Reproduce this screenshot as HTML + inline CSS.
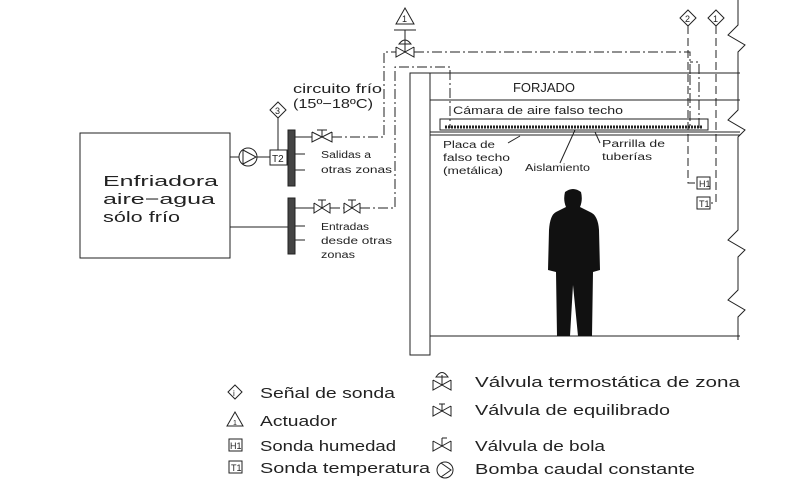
<!DOCTYPE html>
<html><head><meta charset="utf-8"><style>
html,body{margin:0;padding:0;background:#fff;}
svg{display:block;}
text{font-family:"Liberation Sans",sans-serif;fill:#222;}
</style></head><body>
<svg width="809" height="484" viewBox="0 0 809 484" xmlns="http://www.w3.org/2000/svg" stroke="#222" fill="none" stroke-width="1">
<rect x="80" y="133" width="150" height="125"/>
<text x="103" y="186" font-size="15" stroke="none" textLength="115" lengthAdjust="spacingAndGlyphs">Enfriadora</text>
<text x="103" y="204" font-size="15" stroke="none" textLength="112" lengthAdjust="spacingAndGlyphs">aire−agua</text>
<text x="103" y="222" font-size="15" stroke="none" textLength="77" lengthAdjust="spacingAndGlyphs">sólo frío</text>
<line x1="230" y1="157" x2="239" y2="157"/>
<circle cx="248" cy="157" r="9"/>
<polyline points="243,150 256,157 243,164 243,150"/>
<line x1="257" y1="157" x2="270" y2="157"/>
<rect x="270" y="150" width="17" height="15"/>
<text x="272" y="162" font-size="10" stroke="none">T2</text>
<line x1="278" y1="150" x2="278" y2="118"/>
<polygon points="278,102 286,110 278,118 270,110"/>
<text x="275" y="114" font-size="9" stroke="none">3</text>
<rect x="288" y="130" width="7" height="56" fill="#444"/>
<line x1="230" y1="227" x2="288" y2="227"/>
<rect x="288" y="198" width="7" height="56" fill="#444"/>
<line x1="295" y1="137" x2="305" y2="137"/><line x1="295" y1="154" x2="305" y2="154"/><line x1="295" y1="170" x2="305" y2="170"/>
<line x1="295" y1="208" x2="305" y2="208"/><line x1="295" y1="226" x2="305" y2="226"/><line x1="295" y1="240" x2="305" y2="240"/>
<text x="321" y="158" font-size="10" stroke="none" textLength="50" lengthAdjust="spacingAndGlyphs">Salidas a</text>
<text x="321" y="173" font-size="10" stroke="none" textLength="71" lengthAdjust="spacingAndGlyphs">otras zonas</text>
<text x="321" y="230" font-size="10" stroke="none" textLength="48" lengthAdjust="spacingAndGlyphs">Entradas</text>
<text x="321" y="244" font-size="10" stroke="none" textLength="71" lengthAdjust="spacingAndGlyphs">desde otras</text>
<text x="321" y="258" font-size="10" stroke="none" textLength="34" lengthAdjust="spacingAndGlyphs">zonas</text>
<text x="293" y="93" font-size="13" stroke="none" textLength="89" lengthAdjust="spacingAndGlyphs">circuito frío</text>
<text x="293" y="108" font-size="13" stroke="none" textLength="80" lengthAdjust="spacingAndGlyphs">(15º−18ºC)</text>
<polyline points="312,132 312,142 322,137 312,132"/><polyline points="332,132 332,142 322,137 332,132"/>
<line x1="322" y1="137" x2="322" y2="130"/><line x1="317" y1="130" x2="327" y2="130"/>
<path d="M305 137 H312 M332 137 H384 V52 H396" stroke-dasharray="10,3,2,3"/>
<polyline points="396,47 396,57 405,52 396,47"/><polyline points="414,47 414,57 405,52 414,47"/>
<line x1="405" y1="52" x2="405" y2="38"/><path d="M399 44 Q405 36 411 44 Z"/>
<line x1="405" y1="38" x2="405" y2="30"/>
<polygon points="405,8 414,24 396,24"/><line x1="394" y1="30" x2="416" y2="30"/>
<text x="402" y="22" font-size="9" stroke="none">1</text>
<path d="M414 52 H690 V75 M690 75 V128" stroke-dasharray="10,3,2,3"/>
<polyline points="314,203 314,213 322,208 314,203"/><polyline points="330,203 330,213 322,208 330,203"/>
<line x1="322" y1="208" x2="322" y2="200"/><line x1="318" y1="200" x2="326" y2="200"/>
<polyline points="344,203 344,213 352,208 344,203"/><polyline points="360,203 360,213 352,208 360,203"/>
<line x1="352" y1="208" x2="352" y2="200"/><line x1="348" y1="200" x2="356" y2="200"/>
<path d="M305 208 H314 M330 208 H344 M360 208 H395 V67 H450 V128" stroke-dasharray="10,3,2,3"/>
<path d="M699 128 V62 H690" stroke-dasharray="10,3,2,3"/>
<rect x="410" y="73" width="20" height="282"/>
<line x1="430" y1="73" x2="740" y2="73"/>
<line x1="430" y1="100" x2="740" y2="100"/>
<text x="513" y="92" font-size="13" stroke="none" textLength="62" lengthAdjust="spacingAndGlyphs">FORJADO</text>
<text x="453" y="114" font-size="11" stroke="none" textLength="170" lengthAdjust="spacingAndGlyphs">Cámara de aire falso techo</text>
<rect x="440" y="119" width="268" height="11"/>
<line x1="445" y1="127" x2="702" y2="127" stroke-width="3" stroke-dasharray="2,1"/>
<line x1="430" y1="132" x2="740" y2="132"/>
<line x1="430" y1="135" x2="740" y2="135"/>
<line x1="430" y1="336" x2="740" y2="336"/>
<text x="443" y="148" font-size="10" stroke="none" textLength="52" lengthAdjust="spacingAndGlyphs">Placa de</text>
<text x="443" y="161" font-size="10" stroke="none" textLength="67" lengthAdjust="spacingAndGlyphs">falso techo</text>
<text x="443" y="174" font-size="10" stroke="none" textLength="60" lengthAdjust="spacingAndGlyphs">(metálica)</text>
<line x1="508" y1="143" x2="520" y2="136"/>
<text x="525" y="171" font-size="10" stroke="none" textLength="65" lengthAdjust="spacingAndGlyphs">Aislamiento</text>
<line x1="560" y1="163" x2="575" y2="130"/>
<text x="602" y="147" font-size="10" stroke="none" textLength="63" lengthAdjust="spacingAndGlyphs">Parrilla de</text>
<text x="602" y="160" font-size="10" stroke="none" textLength="50" lengthAdjust="spacingAndGlyphs">tuberías</text>
<line x1="600" y1="143" x2="595" y2="132"/>
<polygon points="688,10 696,18 688,26 680,18"/><text x="685" y="22" font-size="9" stroke="none">2</text>
<polygon points="716,10 724,18 716,26 708,18"/><text x="713" y="22" font-size="9" stroke="none">1</text>
<path d="M688 26 V183 H697" stroke-dasharray="8,4"/>
<path d="M716 26 V203 H711" stroke-dasharray="8,4"/>
<rect x="697" y="177" width="13" height="12"/><text x="699" y="187" font-size="9" stroke="none">H1</text>
<rect x="697" y="197" width="13" height="12"/><text x="699" y="207" font-size="9" stroke="none">T1</text>
<polyline points="738,0 738,25 728,35 745,45 738,52 738,110 728,120 745,130 738,137 738,230 728,240 745,250 738,257 738,290 728,300 745,310 738,317 738,340"/>
<path d="M565 192 Q563 200 566 207 L556 212 Q550 215 549 230 L548 270 L556 272 L557 336 L570 336 L573 285 L578 336 L592 336 L593 272 L600 270 L599 230 Q598 215 590 212 L580 207 Q583 200 581 192 Q573 186 565 192 Z" fill="#111" stroke="none"/>
<polygon points="235,385 242,392 235,399 228,392"/><text x="233" y="396" font-size="8" stroke="none">i</text>
<text x="260" y="398" font-size="15" stroke="none" textLength="135" lengthAdjust="spacingAndGlyphs">Señal de sonda</text>
<polygon points="235,412 243,426 227,426"/><text x="233" y="425" font-size="7" stroke="none">1</text>
<text x="260" y="426" font-size="15" stroke="none" textLength="77" lengthAdjust="spacingAndGlyphs">Actuador</text>
<rect x="229" y="439" width="13" height="12"/><text x="230" y="449" font-size="9" stroke="none">H1</text>
<text x="260" y="451" font-size="15" stroke="none" textLength="136" lengthAdjust="spacingAndGlyphs">Sonda humedad</text>
<rect x="229" y="461" width="13" height="12"/><text x="231" y="471" font-size="9" stroke="none">T1</text>
<text x="260" y="473" font-size="15" stroke="none" textLength="170" lengthAdjust="spacingAndGlyphs">Sonda temperatura</text>
<polyline points="433,380 433,390 442,385 433,380"/><polyline points="451,380 451,390 442,385 451,380"/>
<line x1="442" y1="385" x2="442" y2="375"/><path d="M436 377 Q442 368 448 377 Z"/>
<text x="475" y="387" font-size="15" stroke="none" textLength="265" lengthAdjust="spacingAndGlyphs">Válvula termostática de zona</text>
<polyline points="433,406 433,416 442,411 433,406"/><polyline points="451,406 451,416 442,411 451,406"/>
<line x1="439" y1="404" x2="445" y2="404"/><line x1="442" y1="404" x2="442" y2="411"/>
<text x="475" y="415" font-size="15" stroke="none" textLength="195" lengthAdjust="spacingAndGlyphs">Válvula de equilibrado</text>
<polyline points="433,441 433,451 442,446 433,441"/><polyline points="451,441 451,451 442,446 451,441"/>
<line x1="442" y1="446" x2="442" y2="438"/><line x1="442" y1="438" x2="447" y2="438"/>
<text x="475" y="451" font-size="15" stroke="none" textLength="130" lengthAdjust="spacingAndGlyphs">Válvula de bola</text>
<circle cx="445" cy="470" r="8"/><polyline points="441,463 451,470 441,477"/>
<text x="475" y="474" font-size="15" stroke="none" textLength="220" lengthAdjust="spacingAndGlyphs">Bomba caudal constante</text>
</svg>
</body></html>
